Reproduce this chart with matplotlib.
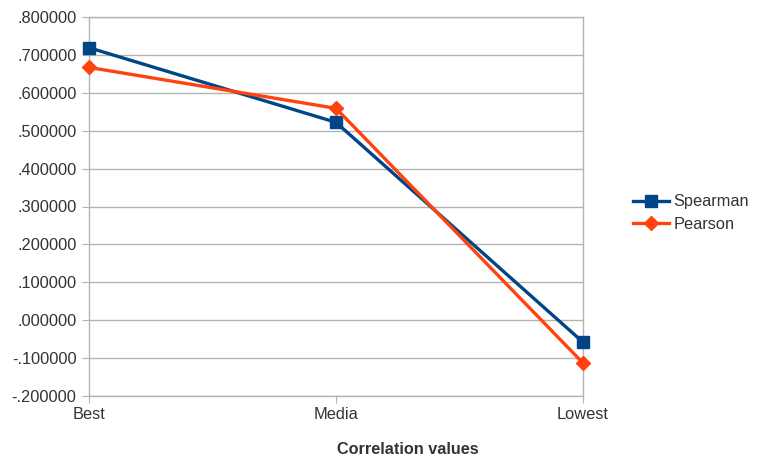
import matplotlib.pyplot as plt
from matplotlib.ticker import FuncFormatter

plt.rcParams['font.family'] = ['Liberation Sans', 'DejaVu Sans']

categories = ["Best", "Media", "Lowest"]
spearman = [0.719, 0.522, -0.058]
pearson = [0.667, 0.559, -0.113]

grid_col = "#b3b3b3"
text_col = "#333333"

fig = plt.figure(figsize=(7.82, 4.59), dpi=100)
ax = fig.add_axes([89 / 782, 1 - 396 / 459, (583 - 89) / 782, (396 - 17) / 459])

x = range(len(categories))
ax.plot(x, spearman, color="#004586", lw=2.4, marker="s", ms=9, label="Spearman",
        zorder=3, clip_on=False)
ax.plot(x, pearson, color="#ff420e", lw=2.4, marker="D", ms=7, label="Pearson",
        zorder=3, clip_on=False)

ax.set_xlim(0, 2)
ax.set_ylim(-0.2, 0.8)
ax.set_yticks([i / 10 for i in range(-2, 9)])
ax.yaxis.set_major_formatter(FuncFormatter(lambda v, p: ("-" if v < -1e-9 else "") + ("%.6f" % abs(v))[1:]))
ax.set_xticks(list(x))
ax.set_xticklabels(categories)
ax.grid(axis="y", color=grid_col, lw=1)
ax.set_axisbelow(True)

for side in ["left", "bottom", "right", "top"]:
    ax.spines[side].set_color(grid_col)
    ax.spines[side].set_linewidth(1)
ax.tick_params(axis="both", length=5, color=grid_col, labelsize=11.8, labelcolor=text_col, pad=4)
ax.tick_params(axis="x", pad=3)

fig.text(408 / 782, 1 - 449 / 459, "Correlation values", ha="center", va="center",
         fontsize=11.7, fontweight="bold", color=text_col)

fig.legend(loc="center left", bbox_to_anchor=(618 / 782, 1 - 213 / 459), frameon=False,
           fontsize=11.8, labelcolor=text_col, handlelength=2.2, handletextpad=0.3,
           labelspacing=0.45)

fig.savefig("out.png", dpi=100)
